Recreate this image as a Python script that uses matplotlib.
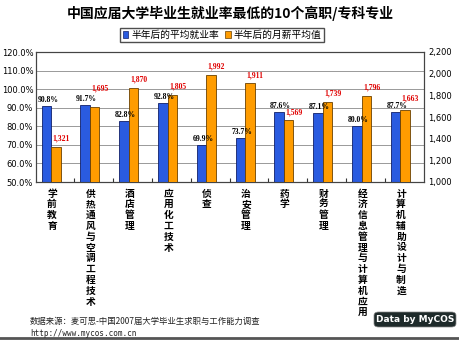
import matplotlib

matplotlib.use("Agg")
import matplotlib.pyplot as plt
import numpy as np
from matplotlib.patches import FancyBboxPatch, Patch

plt.rcParams["font.family"] = ["Noto Sans CJK SC", "DejaVu Sans"]

majors = ["学前教育", "供热通风与空调工程技术", "酒店管理", "应用化工技术", "侦查",
          "治安管理", "药学", "财务管理", "经济信息管理与计算机应用", "计算机辅助设计与制造"]
rate = [90.8, 91.7, 82.8, 92.8, 69.9, 73.7, 87.6, 87.1, 80.0, 87.7]
salary = [1321, 1695, 1870, 1805, 1992, 1911, 1569, 1739, 1796, 1663]
left_ticks = [50, 60, 70, 80, 90, 100, 110, 120]
right_ticks = [1000, 1200, 1400, 1600, 1800, 2000, 2200]

BLUE, ORANGE = "#2a5be0", "#ff9c00"

fig = plt.figure(figsize=(4.6, 3.42), dpi=100)
ax = fig.add_axes([36 / 460, 1 - 182 / 342, 388 / 460, 130 / 342])
ax2 = ax.twinx()

x = np.arange(len(majors))
w = 0.245
ax.bar(x - w / 2, rate, w, color=BLUE, edgecolor="#10206a", lw=0.6, zorder=3)
ax2.bar(x + w / 2, salary, w, color=ORANGE, edgecolor="#6a4000", lw=0.6, zorder=3)

ax.set_ylim(50, 120)
ax2.set_ylim(1000, 2200)
ax.set_xlim(-0.39, 9.61)
ax.set_yticks(left_ticks)
ax.set_yticklabels([f"{v:.1f}%" for v in left_ticks], fontsize=6, family="DejaVu Sans")
ax2.set_yticks(right_ticks)
ax2.set_yticklabels([f"{v:,}" for v in right_ticks], fontsize=6, family="DejaVu Sans")
ax.yaxis.grid(True, color="#999999", lw=0.7, zorder=0)
ax.set_axisbelow(True)
ax.set_xticks(np.arange(9) + 0.6)
ax.set_xticklabels([])
ax.tick_params(axis="x", length=3, direction="in", color="#333333")
ax.tick_params(axis="y", length=0, pad=2)
ax2.tick_params(axis="y", length=0, pad=3)
for a in (ax, ax2):
    for s in a.spines.values():
        s.set_color("#444444")
        s.set_linewidth(0.8)

# salary labels sit a little higher where they would collide with the rate label
lifts = {1: 130, 9: 75}
for i in range(len(majors)):
    # rate labels go on the top axes (in left-axis units) so orange bars don't hide them
    ax2.text(x[i] - w / 2 + 0.04, rate[i] + 1.0, f"{rate[i]:.1f}%", transform=ax.transData,
             ha="center", va="bottom", fontsize=5.5, family="Liberation Serif",
             weight="bold", color="black", zorder=5)
    ax2.text(x[i] + w / 2 + 0.14, salary[i] + lifts.get(i, 40), f"{salary[i]:,}",
             ha="center", va="bottom", fontsize=5.5, family="Liberation Serif",
             weight="bold", color="#e00000", zorder=5)
    ax.text(x[i] + 0.02, 46.5, "\n".join(majors[i]), ha="center", va="top",
            fontsize=7, weight="bold", linespacing=1.1)

fig.text(0.5, 1 - 13 / 342, "中国应届大学毕业生就业率最低的10个高职/专科专业",
         ha="center", va="center", fontsize=10, weight="bold")

handles = [Patch(facecolor=BLUE, edgecolor="#10206a", lw=0.5),
           Patch(facecolor=ORANGE, edgecolor="#6a4000", lw=0.5)]
fig.legend(handles, ["半年后的平均就业率", "半年后的月薪平均值"], loc="center",
           bbox_to_anchor=(222 / 460, 1 - 35 / 342), ncol=2, fontsize=7, frameon=True,
           fancybox=False, edgecolor="#222222", handlelength=0.6, handleheight=0.6,
           handletextpad=0.3, columnspacing=0.6, borderpad=0.25, borderaxespad=0)

fig.text(30 / 460, 1 - 321 / 342, "数据来源：麦可思-中国2007届大学毕业生求职与工作能力调查",
         ha="left", va="center", fontsize=6, color="#222222")
fig.text(30 / 460, 1 - 333 / 342, "http://www.mycos.com.cn", ha="left", va="center",
         fontsize=5.5, family="DejaVu Sans Mono", color="#222222")

badge = FancyBboxPatch((374 / 460, 1 - 327 / 342), 82 / 460, 15 / 342,
                       boxstyle="round,pad=0,rounding_size=0.01", transform=fig.transFigure,
                       facecolor="#1e2a2a", edgecolor="#888888", lw=0.5)
fig.patches.append(badge)
fig.text(415 / 460, 1 - 319.5 / 342, "Data by MyCOS", ha="center", va="center",
         fontsize=6.5, weight="bold", color="white", family="DejaVu Sans")
fig.add_artist(plt.Line2D([0, 1], [1 - 338 / 342] * 2, transform=fig.transFigure,
                          color="#555555", lw=2))

fig.savefig("out.png", dpi=100)
